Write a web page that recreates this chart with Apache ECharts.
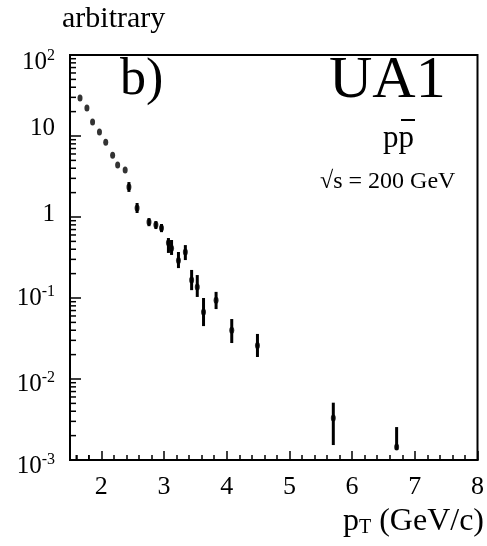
<!DOCTYPE html>
<html>
<head>
<meta charset="utf-8">
<script src="https://cdn.jsdelivr.net/npm/echarts@6/dist/echarts.min.js"></script>
<style>
html,body{margin:0;padding:0;background:#fff;}
#c{width:487px;height:546px;}
</style>
</head>
<body>
<div id="c"></div>
<script>
// pT values (GeV/c)
var pt = [1.66, 1.77, 1.86, 1.97, 2.07, 2.18, 2.26, 2.38, 2.44, 2.57, 2.76, 2.87, 2.96, 3.07, 3.12, 3.23, 3.34, 3.44, 3.53, 3.63, 3.83, 4.08, 4.49, 5.70, 6.71];
// cross section (arbitrary units)
var val = [29.5, 22.2, 14.9, 11.2, 8.4, 5.8, 4.4, 3.8, 2.34, 1.29, 0.87, 0.80, 0.73, 0.48, 0.41, 0.29, 0.37, 0.167, 0.137, 0.067, 0.094, 0.040, 0.026, 0.0033, 0.00145];
var errLo = [29.5, 22.2, 14.9, 11.2, 8.4, 5.8, 4.4, 3.8, 2.04, 1.12, 0.77, 0.71, 0.65, 0.36, 0.34, 0.234, 0.294, 0.125, 0.103, 0.045, 0.073, 0.0278, 0.0187, 0.00153, 0.00133];
var errHi = [29.5, 22.2, 14.9, 11.2, 8.4, 5.8, 4.4, 3.8, 2.70, 1.49, 0.97, 0.89, 0.82, 0.55, 0.52, 0.37, 0.45, 0.222, 0.192, 0.100, 0.119, 0.055, 0.036, 0.0051, 0.00255];
// axis tick labels
var xTickLabels = ['2', '3', '4', '5', '6', '7', '8'];
var yTickBase = {'2': '10', '1': '10', '0': '1', '-1': '10', '-2': '10', '-3': '10'};
var yTickExp = {'2': '2', '1': '', '0': '', '-1': '-1', '-2': '-2', '-3': '-3'};
var xMinorExtra = [1.6, 1.8];
var yMinorTicks = [];
for (var e = -3; e < 2; e++) { for (var m = 2; m <= 9; m++) { yMinorTicks.push(m * Math.pow(10, e)); } }

var X_MIN = 1.5, X_MAX = 8, Y_MIN = 0.001, Y_MAX = 100;
var serif = '"Liberation Serif", "DejaVu Serif", serif';
// per-label vertical nudge (px) to follow the scanned original
var yLabelShift = {'2': 7, '1': -8, '0': -3, '-1': 0, '-2': 5, '-3': 6};

var rich = {};
Object.keys(yLabelShift).forEach(function (k) {
  var d = yLabelShift[k];
  var pt0 = d > 0 ? 2 * d : 0, pb0 = d < 0 ? -2 * d : 0;
  rich['b' + (+k + 3)] = {fontFamily: serif, fontSize: 25, color: '#000', padding: [pt0, 0, pb0, 0]};
  rich['s' + (+k + 3)] = {fontFamily: serif, fontSize: 16, color: '#000', padding: [pt0, 0, pb0 + 12, 0]};
});

var pts = pt.map(function (x, i) { return [x, val[i]]; });
var bars = pt.map(function (x, i) { return [x, errLo[i], errHi[i]]; });

var chart = echarts.init(document.getElementById('c'), null, {renderer: 'canvas'});
chart.setOption({
  backgroundColor: '#fff',
  animation: false,
  grid: {left: 70, right: 4, top: 55, bottom: 86, show: true, borderColor: '#000', borderWidth: 2, backgroundColor: 'transparent'},
  xAxis: {
    type: 'value', min: X_MIN, max: X_MAX, splitNumber: 7,
    axisLine: {lineStyle: {color: '#000', width: 2}},
    axisTick: {inside: true, length: 9, lineStyle: {color: '#000', width: 1.5}},
    minorTick: {show: true, splitNumber: 5, length: 5, lineStyle: {color: '#000', width: 1.5}},
    splitLine: {show: false},
    axisLabel: {color: '#000', fontFamily: serif, fontSize: 26, margin: 14,
      formatter: function (v) { var i = Math.round(v) - 2; return (Math.abs(v - Math.round(v)) < 1e-6 && xTickLabels[i]) ? xTickLabels[i] : ''; }}
  },
  yAxis: {
    type: 'log', logBase: 10, min: Y_MIN, max: Y_MAX,
    axisLine: {lineStyle: {color: '#000', width: 2}},
    axisTick: {inside: true, length: 11, lineStyle: {color: '#000', width: 1.5}},
    splitLine: {show: false},
    axisLabel: {color: '#000', margin: 15,
      formatter: function (v) {
        var k = String(Math.round(Math.log10(v)));
        if (!(k in yTickBase)) return '';
        var n = +k + 3;
        var s = '{b' + n + '|' + yTickBase[k] + '}';
        if (yTickExp[k]) s += '{s' + n + '|' + yTickExp[k] + '}';
        return s;
      },
      rich: rich}
  },
  graphic: [
    {type: 'text', style: {x: 62, y: 4, text: 'arbitrary', font: '30px ' + serif, fill: '#000', verticalAlign: 'top'}},
    {type: 'text', style: {x: 120, y: 54, text: 'b)', font: '52px ' + serif, fill: '#000', verticalAlign: 'top'}},
    {type: 'text', style: {x: 329, y: 51, text: 'UA1', font: '60px ' + serif, fill: '#000', verticalAlign: 'top'}},
    {type: 'text', style: {x: 383, y: 123, text: 'pp', font: '31px ' + serif, fill: '#000', verticalAlign: 'top'}},
    {type: 'rect', shape: {x: 401, y: 119, width: 14, height: 2}, style: {fill: '#000'}},
    {type: 'text', style: {x: 320, y: 170, text: '\u221As = 200 GeV', font: '24px ' + serif, fill: '#000', verticalAlign: 'top'}},
    {type: 'text', style: {x: 484, y: 506, align: 'right', verticalAlign: 'top',
      text: '{p|p}{t|T}{p| (GeV/c)}',
      rich: {p: {font: '32px ' + serif, fill: '#000'}, t: {font: '20px ' + serif, fill: '#000', padding: [12, 0, 0, 0]}}}}
  ],
  series: [
    {
      type: 'custom', name: 'errors', data: bars, clip: true,
      renderItem: function (params, api) {
        var a = api.coord([api.value(0), api.value(1)]);
        var b = api.coord([api.value(0), api.value(2)]);
        return {type: 'line', shape: {x1: a[0], y1: a[1], x2: b[0], y2: b[1]}, style: {stroke: '#000', lineWidth: 3}};
      }
    },
    {
      type: 'scatter', name: 'data', data: pts, symbol: 'circle', symbolSize: [5, 7],
      itemStyle: {color: '#000'}, silent: true
    },
    {
      type: 'custom', name: 'yminor', data: yMinorTicks.map(function (v) { return [X_MIN, v]; }),
      renderItem: function (params, api) {
        var p = api.coord([api.value(0), api.value(1)]);
        return {type: 'line', shape: {x1: p[0], y1: p[1], x2: p[0] + 6, y2: p[1]}, style: {stroke: '#000', lineWidth: 1.5}};
      }
    },
    {
      type: 'custom', name: 'xminor', data: xMinorExtra.map(function (v) { return [v, Y_MIN]; }),
      renderItem: function (params, api) {
        var p = api.coord([api.value(0), api.value(1)]);
        return {type: 'line', shape: {x1: p[0], y1: p[1], x2: p[0], y2: p[1] - 5}, style: {stroke: '#000', lineWidth: 1.5}};
      }
    }
  ]
});
</script>
</body>
</html>
